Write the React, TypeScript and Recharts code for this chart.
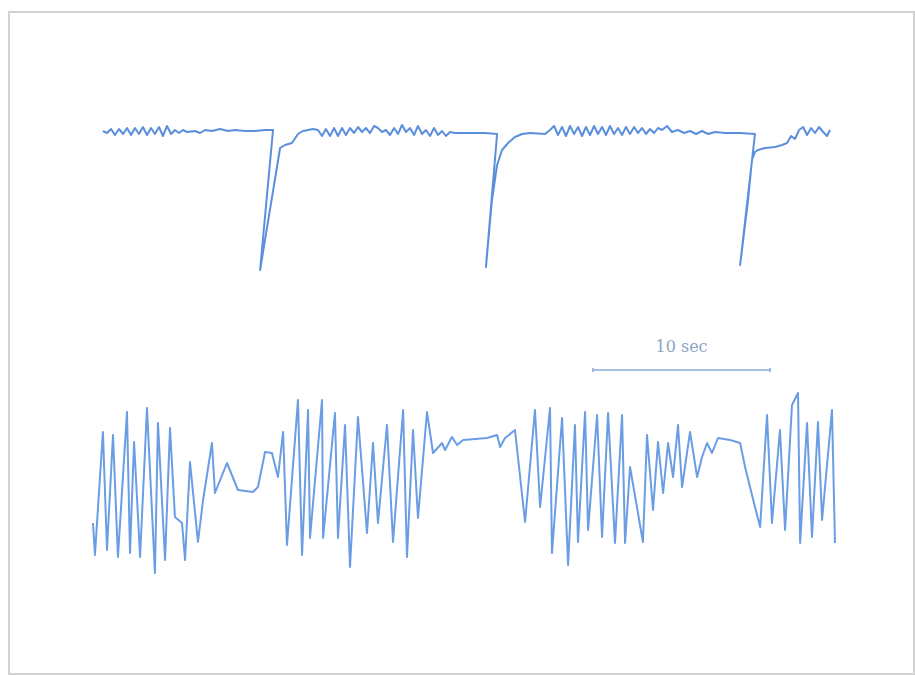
import React from "react";
import { LineChart, Line, XAxis, YAxis, ReferenceLine } from "recharts";

// Time in seconds (scale bar = 10 sec); values in arbitrary recording units.
const upperTime = [
  0.56, 0.79, 1.02, 1.24, 1.47, 1.70, 1.92, 2.15, 2.37, 2.60, 2.82, 3.05, 3.28, 3.50, 3.73, 3.95, 4.18, 4.41, 4.63, 4.86, 5.08, 5.31,
  5.76, 6.05, 6.33, 6.72, 7.18, 7.63, 8.02, 8.59, 9.15, 9.72, 10.17, 9.44, 10.57, 10.85, 11.24, 11.58, 11.86,
  12.15, 12.43, 12.71, 12.94, 13.16, 13.39, 13.62, 13.84, 14.07, 14.29, 14.52, 14.75, 14.97, 15.20, 15.42, 15.65, 15.88, 16.10,
  16.33, 16.55, 16.78, 17.01, 17.23, 17.46, 17.68, 17.91, 18.14, 18.36, 18.59, 18.81, 19.04, 19.27, 19.49, 19.72, 19.94, 20.17,
  20.45, 21.02, 21.58, 22.15, 22.83, 22.20, 22.54, 22.83, 23.11, 23.45, 23.84, 24.24, 24.69, 25.54,
  25.82, 26.05, 26.27, 26.50, 26.72, 26.95, 27.18, 27.40, 27.63, 27.85, 28.08, 28.31, 28.53, 28.76, 28.98, 29.21, 29.44, 29.66,
  29.89, 30.11, 30.34, 30.57, 30.79, 31.02, 31.24, 31.47, 31.70, 31.92, 32.15, 32.43, 32.71, 33.05, 33.39, 33.73, 34.07, 34.41,
  34.75, 35.14, 35.71, 36.56, 37.40, 36.56, 37.01, 37.23, 37.40, 37.57, 37.97, 38.53, 38.93, 39.21, 39.44, 39.66, 39.89, 40.12,
  40.34, 40.57, 40.79, 41.02, 41.25, 41.47, 41.64,
];
const upperValue = [
  0, -2, 2, -4, 2, -3, 3, -4, 3, -3, 4, -4, 3, -3, 4, -5, 5, -3, 1, -2, 1, -1,
  0, -2, 1, 0, 2, 0, 1, 0, 0, 1, 1, -139, -17, -14, -12, -3, 0,
  1, 2, 1, -5, 2, -5, 3, -5, 3, -4, 3, -2, 4, -1, 3, -2, 5, 3,
  -1, 1, -4, 3, -3, 6, -1, 3, -4, 5, -3, 1, -5, 3, -4, 0, -5, -1,
  -2, -2, -2, -2, -3, -136, -69, -34, -19, -12, -6, -3, -2, -3,
  1, 5, -4, 4, -5, 5, -3, 4, -5, 4, -4, 5, -3, 4, -4, 5, -3, 3,
  -4, 4, -3, 4, -2, 3, -3, 2, -2, 3, 1, 5, -1, 1, -2, 0, -3, 0,
  -3, -1, -2, -2, -3, -134, -69, -29, -21, -19, -17, -16, -14, -12, -5, -8, 1, 4,
  -4, 3, -2, 4, -1, -5, 1,
];

const lowerTime = [
  0.00, 0.11, 0.56, 0.79, 1.13, 1.41, 1.92, 2.09, 2.32, 2.66, 3.05, 3.50, 3.67, 4.07, 4.35, 4.63, 5.03, 5.20, 5.48, 5.93,
  6.22, 6.72, 6.89, 7.57, 8.19, 9.04, 9.32, 9.72, 10.11, 10.45, 10.74, 10.96, 11.58, 11.81, 12.15, 12.26, 12.94, 13.00,
  13.67, 13.84, 14.24, 14.52, 14.97, 15.48, 15.82, 16.10, 16.61, 16.95, 17.52, 17.74, 18.08, 18.36, 18.87, 19.21, 19.72,
  19.89, 20.28, 20.57, 20.91, 22.26, 22.83, 23.00, 23.28, 23.84, 24.41, 24.97, 25.26, 25.82, 25.93, 26.50, 26.84, 27.23,
  27.40, 27.80, 27.97, 28.48, 28.76, 29.10, 29.49, 29.89, 30.06, 30.34, 31.07, 31.30, 31.64, 31.92, 32.21, 32.49, 32.77,
  33.05, 33.28, 33.73, 34.13, 34.41, 34.69, 34.97, 35.31, 35.99, 36.56, 36.84, 37.40, 37.69, 38.08, 38.36, 38.81, 39.10,
  39.49, 39.83, 39.95, 40.34, 40.62, 40.96, 41.19, 41.75, 41.92,
];
const lowerValue = [
  -38, -70, 53, -65, 50, -72, 73, -68, 43, -72, 77, -88, 62, -75, 57, -32, -38, -75, 23, -57,
  -15, 42, -8, 22, -5, -7, -2, 33, 32, 8, 53, -60, 85, -70, 75, -53, 85, -53,
  72, -53, 60, -82, 68, -48, 42, -38, 60, -57, 75, -72, 55, -33, 73, 32, 42,
  35, 48, 40, 45, 47, 50, 38, 47, 55, -37, 75, -22, 77, -68, 67, -80, 60,
  -57, 73, -45, 70, -52, 72, -58, 70, -58, 18, -57, 50, -25, 43, -8, 42, 8,
  60, -2, 53, 8, 28, 42, 32, 47, 45, 42, 18, -22, -42, 70, -38, 55, -45,
  80, 92, -58, 62, -52, 63, -35, 75, -58,
];

const scaleBarStart = 28.25;
const scaleBarSeconds = 10;
const scaleBarLevel = 115;
const scaleBarLabel = "10 sec";

const upperData = upperTime.map((t, i) => ({ t, v: upperValue[i] }));
const lowerData = lowerTime.map((t, i) => ({ t, v: lowerValue[i] }));

export default function App() {
  const barEnd = scaleBarStart + scaleBarSeconds;
  return (
    <div style={{ position: "relative", width: 915, height: 675, background: "#ffffff" }}>
      <style>{`body{margin:0;background:#fff}`}</style>
      <div
        style={{
          position: "absolute",
          left: 8,
          top: 11,
          width: 903,
          height: 660,
          border: "2px solid #d2d2d2",
        }}
      />
      <div style={{ position: "absolute", left: 0, top: 0 }}>
        <LineChart width={915} height={675} margin={{ top: 0, right: 0, bottom: 0, left: 0 }}>
          <XAxis dataKey="t" type="number" domain={[-5.254, 46.44]} hide allowDataOverflow />
          <YAxis yAxisId="upper" type="number" domain={[-544, 131]} hide allowDataOverflow />
          <YAxis yAxisId="lower" type="number" domain={[-190, 485]} hide allowDataOverflow />
          <Line
            yAxisId="upper"
            data={upperData}
            dataKey="v"
            type="linear"
            stroke="#5b8fdc"
            strokeWidth={2}
            strokeLinejoin="round"
            dot={false}
            activeDot={false}
            isAnimationActive={false}
          />
          <Line
            yAxisId="lower"
            data={lowerData}
            dataKey="v"
            type="linear"
            stroke="#6a9de4"
            strokeWidth={2}
            strokeLinejoin="round"
            dot={false}
            activeDot={false}
            isAnimationActive={false}
          />
          <ReferenceLine
            yAxisId="lower"
            segment={[
              { x: scaleBarStart, y: scaleBarLevel },
              { x: barEnd, y: scaleBarLevel },
            ]}
            stroke="#8aaad6"
            strokeWidth={1.6}
            label={{
              value: scaleBarLabel,
              position: "top",
              offset: 18,
              fill: "#8da3c4",
              fontSize: 16,
              fontFamily: "DejaVu Serif",
            }}
          />
          <ReferenceLine
            yAxisId="lower"
            segment={[
              { x: scaleBarStart, y: scaleBarLevel - 2 },
              { x: scaleBarStart, y: scaleBarLevel + 2 },
            ]}
            stroke="#8aaad6"
            strokeWidth={1.6}
          />
          <ReferenceLine
            yAxisId="lower"
            segment={[
              { x: barEnd, y: scaleBarLevel - 2 },
              { x: barEnd, y: scaleBarLevel + 2 },
            ]}
            stroke="#8aaad6"
            strokeWidth={1.6}
          />
        </LineChart>
      </div>
    </div>
  );
}
